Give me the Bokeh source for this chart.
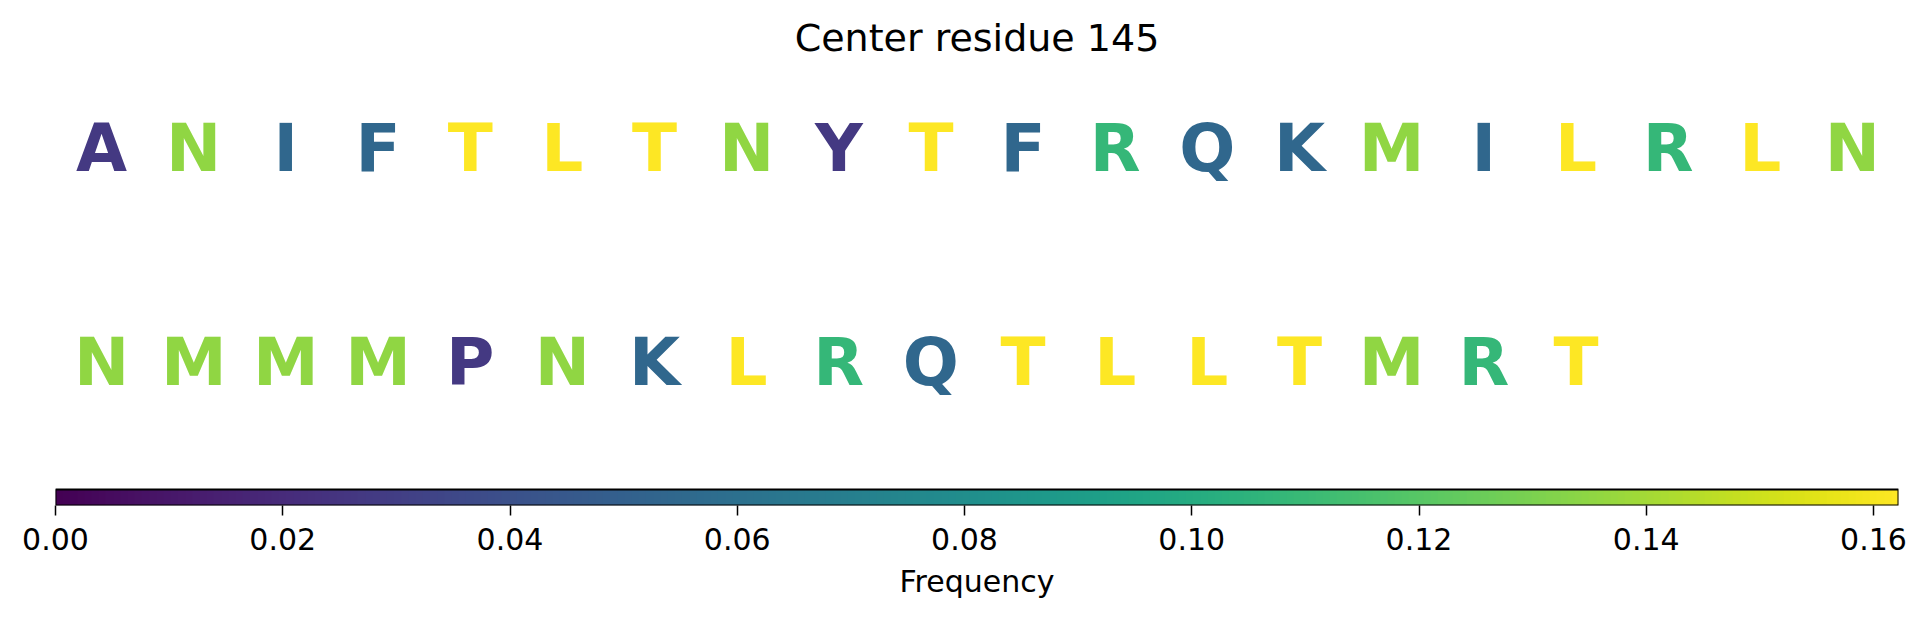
import numpy as np
from bokeh.plotting import figure
from bokeh.models import Range1d, LinearAxis, FixedTicker, NumeralTickFormatter, ColumnDataSource, LinearColorMapper
from bokeh.palettes import Viridis256
from bokeh.core.properties import value
from bokeh.embed import file_html
from bokeh.resources import INLINE

# ---- data ----
row1_letters = ["A", "N", "I", "F", "T", "L", "T", "N", "Y", "T", "F", "R", "Q", "K", "M", "I", "L", "R", "L", "N"]
row1_freq = [0.027, 0.135, 0.054, 0.054, 0.162, 0.162, 0.162, 0.135, 0.027, 0.162,
             0.054, 0.108, 0.054, 0.054, 0.135, 0.054, 0.162, 0.108, 0.162, 0.135]
row2_letters = ["N", "M", "M", "M", "P", "N", "K", "L", "R", "Q", "T", "L", "L", "T", "M", "R", "T"]
row2_freq = [0.135, 0.135, 0.135, 0.135, 0.027, 0.135, 0.054, 0.162, 0.108, 0.054,
             0.162, 0.162, 0.162, 0.162, 0.135, 0.108, 0.162]
cb_low, cb_high = 0.0, 0.1622
cb_ticks = [0.00, 0.02, 0.04, 0.06, 0.08, 0.10, 0.12, 0.14, 0.16]
title_text = "Center residue 145"
cb_label = "Frequency"

# ---- layout constants ----
W, H = 1912, 611
ML, MR, MT, MB = 55, 14, 68, 106
FRAME_H = H - MT - MB
N_COLS = 20
ROW1_Y = 357
ROW2_Y = 143
CB_H = 16

mapper = LinearColorMapper(palette=Viridis256, low=cb_low, high=cb_high)

p = figure(width=W, height=H, output_backend="svg", toolbar_location=None,
           x_range=Range1d(cb_low, cb_high), y_range=Range1d(0, FRAME_H),
           min_border_left=ML, min_border_right=MR, min_border_top=MT, min_border_bottom=MB,
           x_axis_location=None, y_axis_location=None)
p.extra_x_ranges = {"cols": Range1d(0, N_COLS)}
p.outline_line_color = None
p.xgrid.visible = False
p.ygrid.visible = False
p.background_fill_color = "white"
p.border_fill_color = "white"

p.title.text = title_text
p.title.align = "center"
p.title.text_font = "DejaVu Sans"
p.title.text_font_size = "38px"
p.title.text_font_style = "normal"
p.title.text_color = "black"
p.title.standoff = 18

def row_source(letters, freqs, y):
    return ColumnDataSource(dict(
        x=[i + 0.5 for i in range(len(letters))],
        y=[y] * len(letters),
        t=letters,
        f=freqs,
    ))

for letters, freqs, y in [(row1_letters, row1_freq, ROW1_Y), (row2_letters, row2_freq, ROW2_Y)]:
    src = row_source(letters, freqs, y)
    p.text(x="x", y="y", text="t", source=src, x_range_name="cols",
           text_color={"field": "f", "transform": mapper},
           text_font=value("DejaVu Sans"), text_font_style="bold",
           text_font_size="66px", text_align="center", text_baseline="middle")

# colorbar image
grad = np.linspace(cb_low, cb_high, 512).reshape(1, -1)
p.image(image=[grad], x=cb_low, y=0, dw=cb_high - cb_low, dh=CB_H, color_mapper=mapper)
p.quad(left=[cb_low], right=[cb_high], bottom=[0], top=[CB_H], fill_alpha=0,
       line_color="black", line_width=2)

ax = LinearAxis(ticker=FixedTicker(ticks=cb_ticks), formatter=NumeralTickFormatter(format="0.00"))
ax.axis_line_color = None
ax.major_tick_in = 0
ax.major_tick_out = 10
ax.major_tick_line_width = 1.5
ax.major_tick_line_color = "black"
ax.minor_tick_line_color = None
ax.major_label_text_font = "DejaVu Sans"
ax.major_label_text_font_size = "30px"
ax.major_label_text_color = "black"
ax.major_label_standoff = 12
ax.axis_label = cb_label
ax.axis_label_text_font = "DejaVu Sans"
ax.axis_label_text_font_size = "30px"
ax.axis_label_text_font_style = "normal"
ax.axis_label_text_color = "black"
ax.axis_label_standoff = 11
p.add_layout(ax, "below")

open("out.html", "w").write(file_html(p, INLINE))
